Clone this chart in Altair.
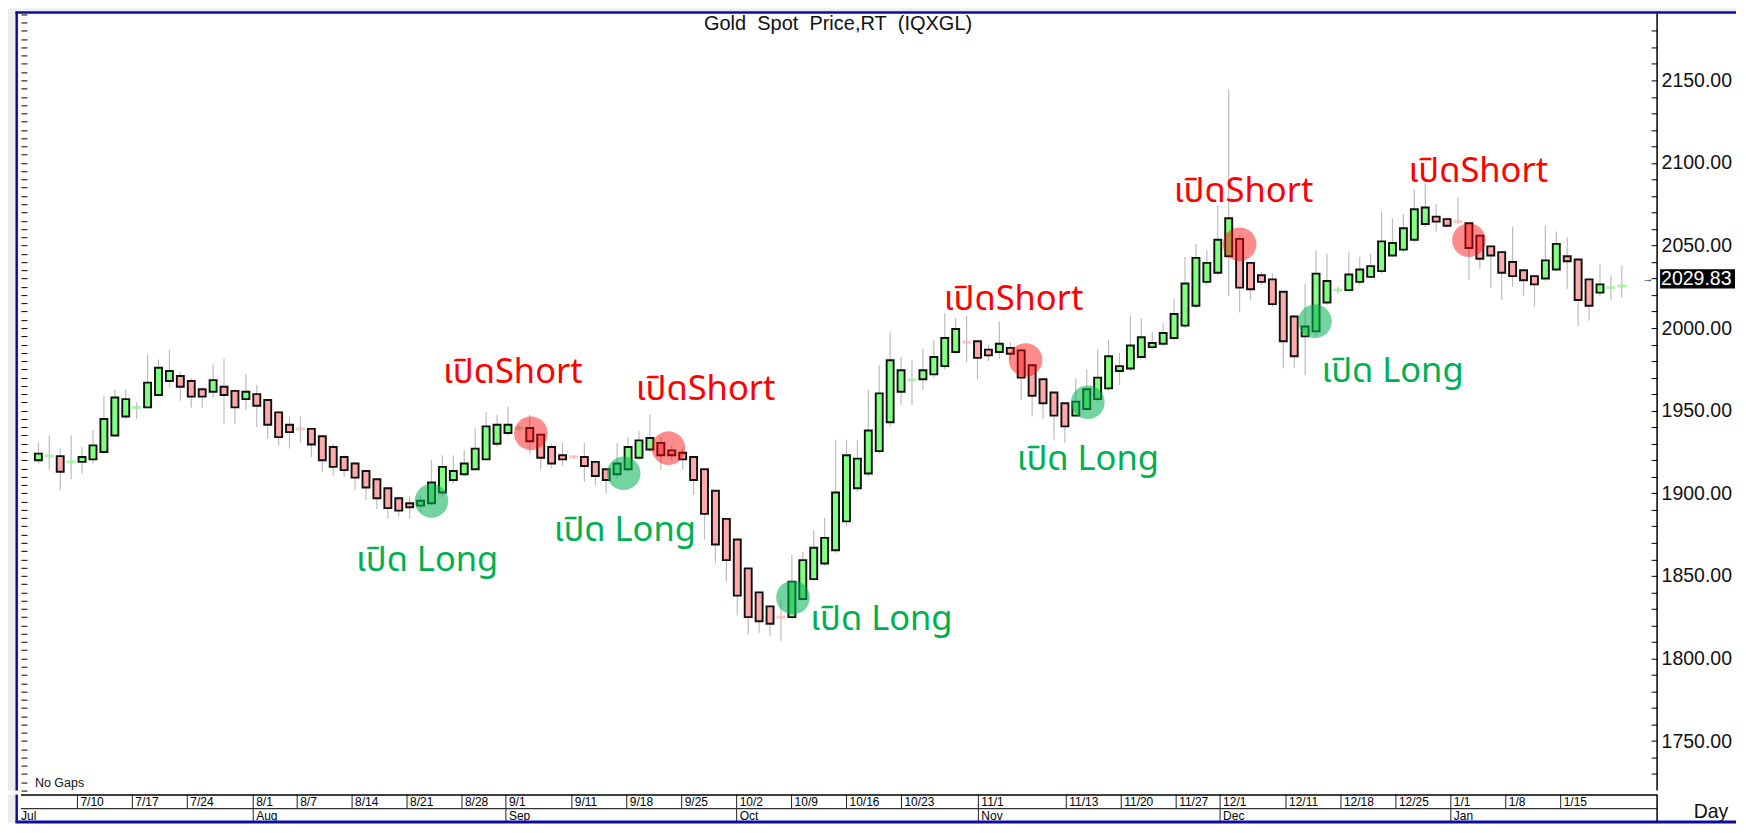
import altair as alt
import pandas as pd

# ---------------- data ----------------
dates = pd.bdate_range("2023-07-04", "2024-01-23")  # trading days, "No Gaps"

opens = [1920, 1922.5, 1922.5, 1919, 1919, 1920.5, 1925, 1935, 1946.5, 1952,
         1952, 1959.5, 1968, 1971, 1968, 1963, 1961.5, 1964.5, 1962, 1957,
         1960, 1956.5, 1949, 1941.5, 1939, 1939, 1934.5, 1928, 1922, 1918,
         1913.5, 1908.5, 1903, 1897, 1894, 1892.5, 1894, 1900.5, 1908, 1911.5,
         1914.5, 1920.5, 1930, 1936.5, 1939.5, 1939.5, 1935.5, 1928, 1923, 1922,
         1922, 1919, 1914.5, 1911.5, 1914.5, 1921.5, 1926.5, 1930.5, 1926, 1924.5,
         1922, 1914.5, 1901.5, 1884.5, 1872, 1854.5, 1840, 1831.5, 1825, 1825,
         1836, 1848, 1857.5, 1865.5, 1883, 1903, 1912, 1925.5, 1943, 1961.5,
         1968.5, 1969, 1972, 1977, 1985.5, 1991.5, 1992, 1987, 1985.5, 1988,
         1986.5, 1977.5, 1969, 1961, 1954.5, 1947, 1951, 1957, 1963.5, 1974,
         1975.5, 1982.5, 1988.5, 1990.5, 1994, 2001.5, 2013.5, 2028, 2033.5, 2043.5,
         2054, 2039.5, 2032, 2029.5, 2022, 2007, 1995, 1998, 2015.5, 2023,
         2023, 2028, 2031, 2034.5, 2044, 2047.5, 2053.5, 2063, 2067.5, 2066,
         2064.5, 2063.5, 2056, 2049.5, 2046, 2040, 2035, 2031.5, 2030, 2035.5,
         2043.5, 2041.5, 2029.5, 2021.5, 2024.5, 2025.5]
highs = [1931, 1935, 1927, 1935, 1928, 1938, 1959, 1963, 1963, 1955,
         1984, 1981, 1987, 1973.5, 1970, 1964, 1978, 1981.5, 1962.5, 1972,
         1965.5, 1957, 1950, 1946.5, 1946.5, 1939.5, 1935, 1930, 1923, 1919,
         1914, 1909, 1904, 1898, 1898, 1899, 1920, 1923, 1923, 1926,
         1939.5, 1949, 1947.5, 1952.5, 1941, 1947.5, 1936, 1930, 1930.5, 1923,
         1930.5, 1919.5, 1915, 1930.5, 1934, 1937.5, 1947.5, 1934, 1929, 1928,
         1922.5, 1915, 1902, 1885, 1872.5, 1855, 1840.5, 1832, 1835.5, 1863,
         1864.5, 1877.5, 1885, 1932.5, 1932.5, 1932.5, 1962.5, 1977.5, 1998, 1982.5,
         1980.5, 1987.5, 1993, 2009, 2006, 2007.5, 1993, 1990, 2004, 1991.5,
         1987, 1978, 1970, 1961.5, 1955, 1969.5, 1975, 1987, 1993, 1985,
         2007.5, 2005.5, 1998, 2003, 2017.5, 2043, 2051, 2047, 2074.5, 2144.5,
         2056, 2040, 2034, 2033, 2022.5, 2008, 2027, 2047, 2045, 2025,
         2046, 2043, 2045, 2070.5, 2066.5, 2069, 2084, 2088, 2075, 2067,
         2079, 2064, 2057, 2050, 2046.5, 2061.5, 2035.5, 2032, 2062, 2058.5,
         2055, 2042, 2030, 2039, 2032, 2038]
lows = [1918, 1914.5, 1902, 1908.5, 1912, 1918, 1924, 1934, 1945, 1945,
        1951.5, 1958.5, 1964, 1956, 1952, 1952, 1958, 1942, 1942, 1950.5,
        1940, 1933, 1929, 1927, 1930.5, 1922, 1913, 1910.5, 1910, 1902,
        1896, 1890.5, 1884.5, 1886, 1884.5, 1889, 1893, 1898, 1906, 1910,
        1914, 1920, 1928, 1934.5, 1938, 1924, 1914.5, 1915, 1916.5, 1921,
        1907, 1905, 1900, 1909, 1913, 1920, 1925, 1914, 1920, 1914.5,
        1899, 1872, 1857.5, 1846.5, 1826, 1814.5, 1815.5, 1813.5, 1810.5, 1824,
        1835, 1847, 1856, 1864, 1880, 1901, 1910, 1924, 1940, 1953.5,
        1953.5, 1962.5, 1970, 1975, 1984, 1979, 1969, 1980, 1981.5, 1981,
        1956.5, 1946.5, 1945, 1932.5, 1930.5, 1946, 1950, 1955, 1962, 1965.5,
        1974, 1981, 1987, 1989, 1992.5, 2000, 2012, 2026, 2032, 2019.5,
        2009.5, 2017, 2026, 2013, 1975.5, 1976, 1971.5, 1995, 2014, 2021,
        2021.5, 2026, 2030, 2033, 2043, 2046, 2052, 2061, 2058.5, 2061,
        2063, 2029.5, 2036, 2024.5, 2017, 2025, 2019.5, 2013, 2028.5, 2034.5,
        2023.5, 2001, 2004.5, 2019.5, 2017, 2018.5]
closes = [1924, 1922.5, 1913, 1919, 1922, 1929, 1945, 1958, 1957, 1952,
          1967, 1976, 1974, 1964.5, 1958.5, 1958.5, 1968.5, 1959.5, 1952, 1961.5,
          1953, 1941.5, 1934, 1937, 1939, 1929.5, 1920, 1916, 1914, 1909.5,
          1903.5, 1897, 1891, 1889.5, 1891.5, 1895.5, 1906.5, 1916, 1913.5, 1918,
          1927, 1940.5, 1941.5, 1941.5, 1939.5, 1931.5, 1921.5, 1918, 1920.5, 1922,
          1916.5, 1910.5, 1908, 1918, 1928, 1932, 1933.5, 1923, 1923, 1920.5,
          1908, 1887.5, 1869, 1859.5, 1838, 1825, 1822.5, 1821, 1825, 1846.5,
          1859.5, 1867, 1873, 1900.5, 1923, 1921, 1938, 1960.5, 1980.5, 1974.5,
          1968.5, 1974.5, 1982.5, 1994, 1999.5, 1991.5, 1982, 1983.5, 1990.5, 1984.5,
          1970, 1959, 1954.5, 1947, 1940.5, 1955.5, 1963, 1970, 1983, 1977,
          1989.5, 1994.5, 1991, 1997, 2008.5, 2027, 2042.5, 2039.5, 2053.5, 2066.5,
          2024.5, 2023.5, 2028, 2014.5, 1992, 1983, 2001, 2033, 2028.5, 2023,
          2032.5, 2035.5, 2037.5, 2052.5, 2051.5, 2060.5, 2072, 2073, 2064.5, 2062,
          2064.5, 2048.5, 2042, 2044, 2033.5, 2031.5, 2029, 2026.5, 2041, 2051,
          2040.5, 2017, 2013.5, 2026.5, 2024.5, 2025.5]
# colour of the unchanged (open == close) sessions
doji_dir = {1: "up", 3: "up", 9: "up", 24: "down", 44: "up", 49: "down", 68: "down",
            80: "up", 85: "down", 119: "up", 130: "down", 144: "up", 145: "up"}

# signals: (trading-day position, price)
short_x = [45.1, 57.7, 90.4, 110.0, 131.0]
short_y = [1936.3, 1927.3, 1980.7, 2050.8, 2053.2]
long_x = [36.0, 53.6, 69.1, 96.1, 116.9]
long_y = [1895.4, 1912.1, 1836.9, 1955.1, 2004.1]
short_lab_x = [43.45, 61.1, 89.3, 110.36, 131.86]
short_lab_y = [1966.8, 1956.5, 2010.9, 2076.4, 2088.5]
long_lab_x = [35.6, 53.7, 77.2, 96.1, 124.0]
long_lab_y = [1853.0, 1870.8, 1817.4, 1913.8, 1967.5]
SHORT_TEXT = "เปิดShort"
LONG_TEXT = "เปิด Long"

week_labels = ["7/10", "7/17", "7/24", "8/1", "8/7", "8/14", "8/21", "8/28", "9/1",
               "9/11", "9/18", "9/25", "10/2", "10/9", "10/16", "10/23", "11/1",
               "11/13", "11/20", "11/27", "12/1", "12/11", "12/18", "12/25",
               "1/1", "1/8", "1/15"]
week_dates = ["2023-07-10", "2023-07-17", "2023-07-24", "2023-08-01", "2023-08-07",
              "2023-08-14", "2023-08-21", "2023-08-28", "2023-09-01", "2023-09-11",
              "2023-09-18", "2023-09-25", "2023-10-02", "2023-10-09", "2023-10-16",
              "2023-10-23", "2023-11-01", "2023-11-13", "2023-11-20", "2023-11-27",
              "2023-12-01", "2023-12-11", "2023-12-18", "2023-12-25", "2024-01-01",
              "2024-01-08", "2024-01-15"]
month_labels = ["Aug", "Sep", "Oct", "Nov", "Dec", "Jan"]
month_dates = ["2023-08-01", "2023-09-01", "2023-10-02", "2023-11-01",
               "2023-12-01", "2024-01-01"]

price_ticks = list(range(1730, 2181, 10))
minor_ticks = list(range(1720, 2191, 5))
last_price = 2029.83
TITLE = "Gold\u00a0 Spot\u00a0 Price,RT\u00a0 (IQXGL)"

# ---------------- layout ----------------
W, H = 1638, 778
BAND = 28
X_DOMAIN = [-1.136, 147.773]
Y_DOMAIN = [1720.0, 2190.5]
PX_PER_UNIT = H / (Y_DOMAIN[1] - Y_DOMAIN[0])
BLUE = "#0c0ca0"
THAI_FONT = "Noto Sans Thai, Noto Sans Thai UI, Tahoma, Noto Sans, sans-serif"
SANS = "Liberation Sans, Arial, sans-serif"

xs = alt.Scale(domain=X_DOMAIN, nice=False, zero=False)
ys = alt.Scale(domain=Y_DOMAIN, nice=False, zero=False)

pos = {d: k for k, d in enumerate(dates.strftime("%Y-%m-%d"))}

df = pd.DataFrame({"i": range(len(dates)), "open": opens, "high": highs,
                   "low": lows, "close": closes})
df["dir"] = ["up" if c > o else "down" for o, c in zip(opens, closes)]
for k, v in doji_dir.items():
    df.loc[k, "dir"] = v
bodies = df[df["open"] != df["close"]]
dojis = df[df["open"] == df["close"]]

X = alt.X("i:Q", scale=xs, axis=None)

right_axis = alt.Axis(orient="right", values=price_ticks, offset=-6, tickSize=6,
                      domain=False, grid=False, title=None, labelPadding=4,
                      labelExpr="datum.value % 50 == 0 ? format(datum.value, '.2f') : ''",
                      labelFont=SANS, labelFontSize=19.5, labelColor="#111111",
                      labelOverlap=False, tickColor="black", tickWidth=1)
left_axis = alt.Axis(orient="left", values=minor_ticks, offset=-6, tickSize=6,
                     domain=False, grid=False, title=None, labels=False,
                     tickColor="black", tickWidth=1)

one = pd.DataFrame({"a": [0]})


def hrule(x1, x2, y, color, w):
    return alt.Chart(one).mark_rule(color=color, strokeWidth=w).encode(
        x=alt.value(x1), x2=alt.value(x2), y=alt.value(y))


def vrule(x, y1, y2, color, w):
    return alt.Chart(one).mark_rule(color=color, strokeWidth=w).encode(
        x=alt.value(x), y=alt.value(y1), y2=alt.value(y2))


def box(x1, x2, y1, y2, color):
    return alt.Chart(one).mark_rect(color=color).encode(
        x=alt.value(x1), x2=alt.value(x2), y=alt.value(y1), y2=alt.value(y2))


wicks = alt.Chart(df).mark_rule(color="#bdbdbd", strokeWidth=1.2).encode(
    x=X, y=alt.Y("low:Q", scale=ys, axis=right_axis), y2="high:Q")
body = alt.Chart(bodies).mark_bar(size=7, stroke="#111111", strokeWidth=1.9).encode(
    x=X, y=alt.Y("open:Q", scale=ys, axis=left_axis), y2="close:Q",
    fill=alt.Fill("dir:N", scale=alt.Scale(domain=["up", "down"],
                                           range=["#80ff80", "#ffaaaa"]), legend=None))
doji = alt.Chart(dojis).mark_tick(orient="horizontal", size=9, thickness=3).encode(
    x=X, y=alt.Y("close:Q", scale=ys, axis=None),
    color=alt.Color("dir:N", scale=alt.Scale(domain=["up", "down"],
                                             range=["#90f090", "#ffb0b0"]), legend=None))

sig_short = pd.DataFrame({"x": short_x, "y": short_y})
sig_long = pd.DataFrame({"x": long_x, "y": long_y})
circ_s = alt.Chart(sig_short).mark_circle(size=1134, color="#ff0000", opacity=0.45).encode(
    x=alt.X("x:Q", scale=xs, axis=None), y=alt.Y("y:Q", scale=ys, axis=None))
circ_l = alt.Chart(sig_long).mark_circle(size=1134, color="#00b050", opacity=0.55).encode(
    x=alt.X("x:Q", scale=xs, axis=None), y=alt.Y("y:Q", scale=ys, axis=None))

lab_s = pd.DataFrame({"x": short_lab_x, "y": short_lab_y, "t": [SHORT_TEXT] * 5})
lab_l = pd.DataFrame({"x": long_lab_x, "y": long_lab_y, "t": [LONG_TEXT] * 5})
txt_s = alt.Chart(lab_s).mark_text(font=THAI_FONT, fontSize=34.5, color="#ff0000",
                                   align="center", baseline="alphabetic").encode(
    x=alt.X("x:Q", scale=xs, axis=None), y=alt.Y("y:Q", scale=ys, axis=None), text="t:N")
txt_l = alt.Chart(lab_l).mark_text(font=THAI_FONT, fontSize=34.5, color="#00b050",
                                   align="center", baseline="alphabetic").encode(
    x=alt.X("x:Q", scale=xs, axis=None), y=alt.Y("y:Q", scale=ys, axis=None), text="t:N")

title = alt.Chart(pd.DataFrame({"t": [TITLE]})).mark_text(
    font=SANS, fontSize=20, color="#111111", align="center", baseline="alphabetic").encode(
    x=alt.value(W / 2 - 1), y=alt.value(17), text="t:N")
nogaps = alt.Chart(pd.DataFrame({"t": ["No Gaps"]})).mark_text(
    font=SANS, fontSize=12.5, color="#111111", align="left", baseline="alphabetic").encode(
    x=alt.value(14), y=alt.value(H - 4), text="t:N")

half = 9.6 / PX_PER_UNIT
mk = pd.DataFrame({"p": [last_price], "top": [last_price + half],
                   "bot": [last_price - half], "t": [f"{last_price:.2f}"]})
mk_box = alt.Chart(mk).mark_rect(color="black").encode(
    x=alt.value(W + 3), x2=alt.value(W + 78),
    y=alt.Y("top:Q", scale=ys, axis=None), y2="bot:Q")
mk_txt = alt.Chart(mk).mark_text(font=SANS, fontSize=19.5, color="white", align="left",
                                 baseline="middle").encode(
    x=alt.value(W + 4), y=alt.Y("p:Q", scale=ys, axis=None), text="t:N")
mk_arrow = alt.Chart(mk).mark_text(font=SANS, fontSize=11, color="black", align="center",
                                   baseline="middle", text="→").encode(
    x=alt.value(W - 9), y=alt.Y("p:Q", scale=ys, axis=None))

main = alt.layer(
    box(-13, W + 79, -5, -2, "#ececec"),
    box(-13, -6, -2, H, "#ececec"),
    wicks, body, doji, circ_s, circ_l, txt_s, txt_l, title, nogaps,
    mk_box, mk_txt, mk_arrow,
    hrule(-5.5, W + 79, -1, BLUE, 2.5),
    vrule(-4.3, -2, H, BLUE, 2.5),
    vrule(W, 0, H, "black", 1.5),
).resolve_axis(y="independent").properties(width=W, height=H)

# ---------------- date band ----------------
wk = pd.DataFrame({"label": week_labels, "i": [pos[d] for d in week_dates]})
mo = pd.DataFrame({"label": month_labels, "i": [pos[d] for d in month_dates]})
BX = alt.X("i:Q", scale=xs, axis=None)

wk_sep = alt.Chart(wk).mark_rule(color="#202020", strokeWidth=1).encode(
    x=BX, y=alt.value(0), y2=alt.value(14))
wk_txt = alt.Chart(wk).mark_text(font=SANS, fontSize=12, color="black", align="left",
                                 baseline="alphabetic", dx=3).encode(
    x=BX, y=alt.value(11.5), text="label:N")
mo_sep = alt.Chart(mo).mark_rule(color="#202020", strokeWidth=1).encode(
    x=BX, y=alt.value(14), y2=alt.value(27))
mo_txt = alt.Chart(mo).mark_text(font=SANS, fontSize=12, color="black", align="left",
                                 baseline="alphabetic", dx=3).encode(
    x=BX, y=alt.value(25), text="label:N")
jul_txt = alt.Chart(pd.DataFrame({"t": ["Jul"]})).mark_text(
    font=SANS, fontSize=12, color="black", align="left", baseline="alphabetic").encode(
    x=alt.value(0), y=alt.value(25), text="t:N")
day_txt = alt.Chart(pd.DataFrame({"t": ["Day"]})).mark_text(
    font=SANS, fontSize=19.5, color="#111111", align="center", baseline="alphabetic").encode(
    x=alt.value(W + 54), y=alt.value(23), text="t:N")

band = alt.layer(
    box(-13, -6, 0, BAND, "#ececec"),
    wk_sep, wk_txt, mo_sep, mo_txt, jul_txt, day_txt,
    hrule(0, W, 0.5, "black", 1.5),
    hrule(0, W, 14, "#303030", 1.3),
    hrule(-5.5, W + 79, BAND - 0.5, BLUE, 3),
    vrule(-4.3, 0, BAND, BLUE, 2.5),
    vrule(W, 0, BAND, "black", 1.5),
).properties(width=W, height=BAND)

chart = alt.vconcat(main, band, spacing=0).properties(padding=0).configure_view(stroke=None)
chart.save("out.html", embed_options={"renderer": "svg", "actions": False})
